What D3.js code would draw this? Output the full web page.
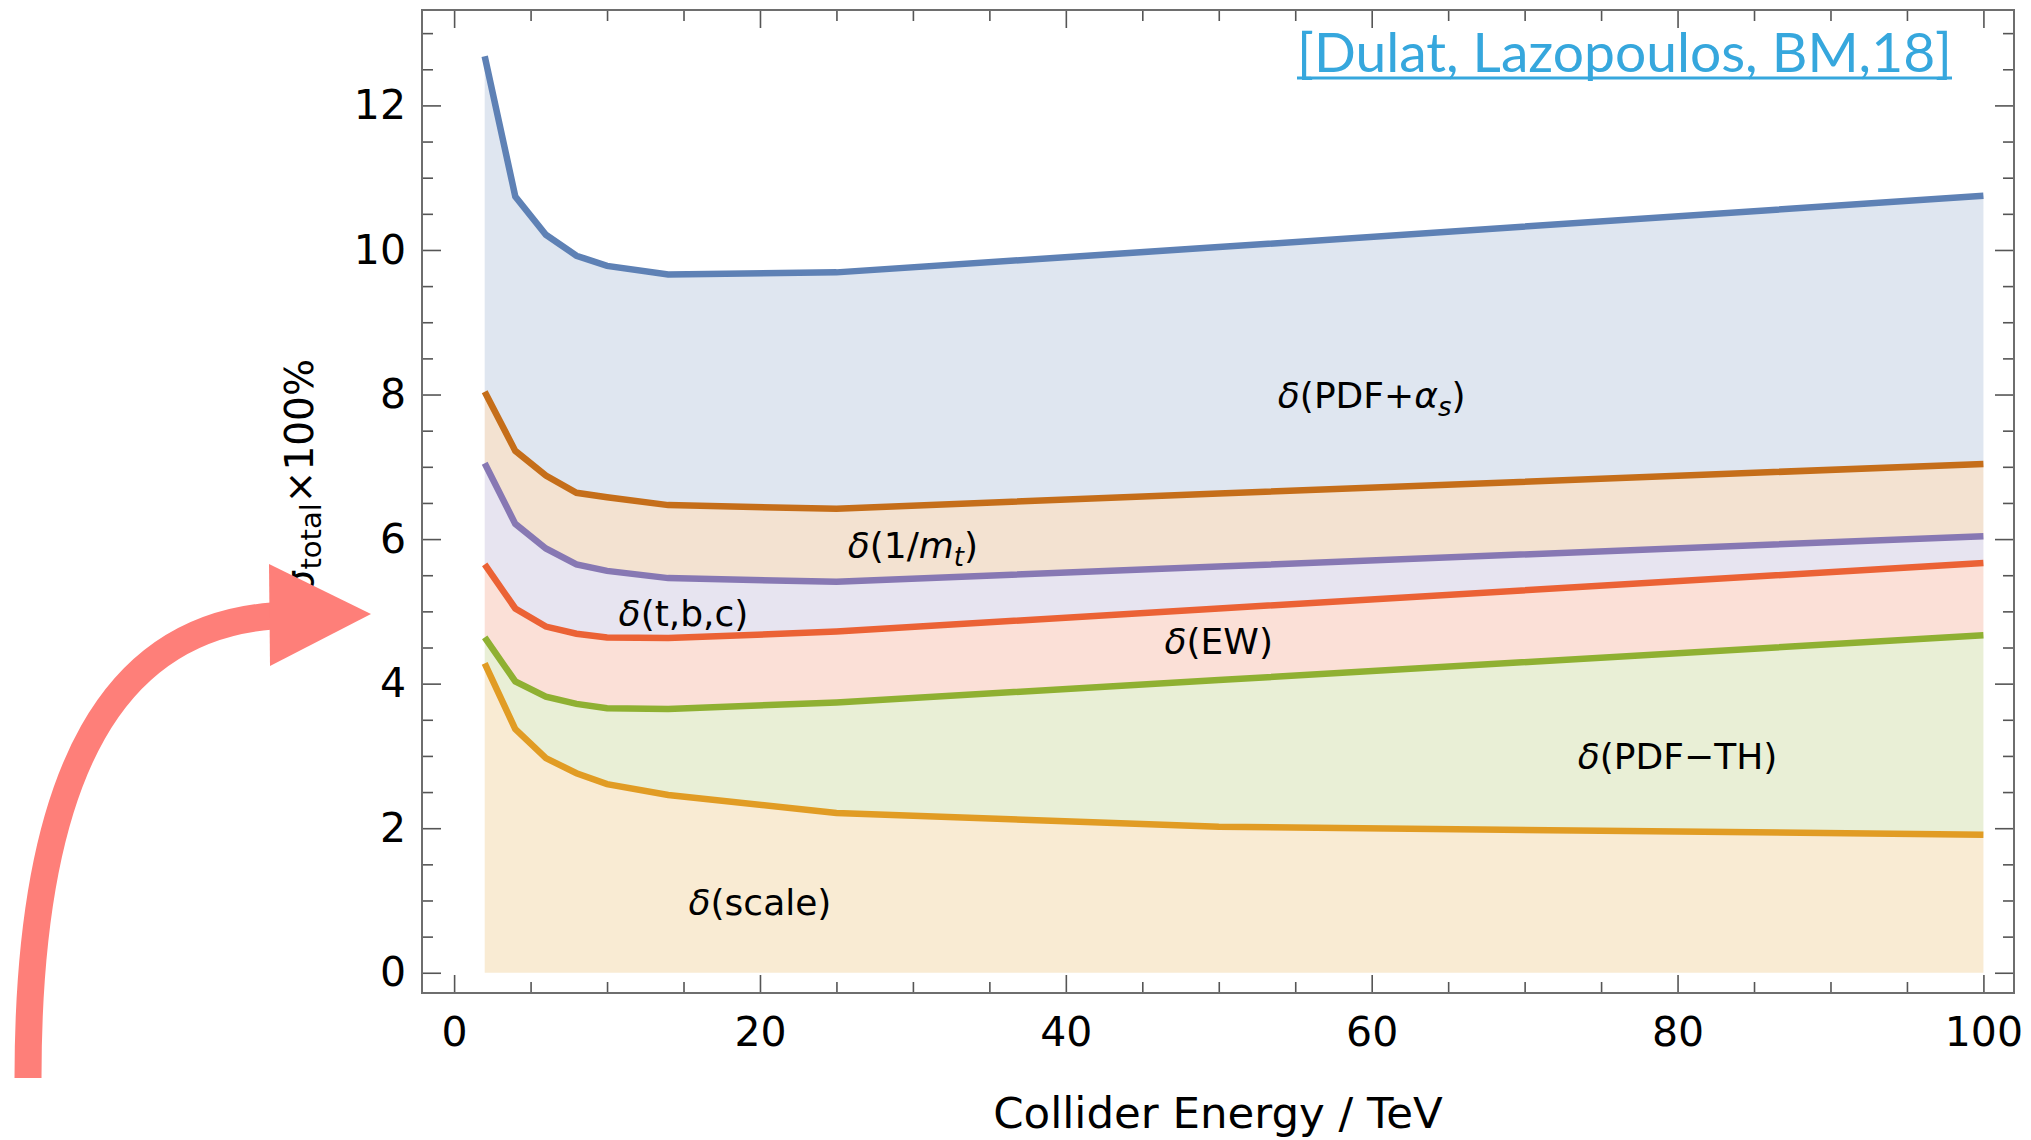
<!DOCTYPE html>
<html>
<head>
<meta charset="utf-8">
<script src="https://cdn.jsdelivr.net/npm/d3@7"></script>
<style>
  html, body { margin: 0; padding: 0; background: #fff; }
  svg { display: block; font-family: "DejaVu Sans", sans-serif; }
</style>
</head>
<body>
<svg id="chart" width="2031" height="1140"></svg>
<script>
// --- data (uncertainty in % vs collider energy in TeV) ---
const energies  = [2, 4, 6, 8, 10, 14, 25, 50, 100];
const pdfAlphaS = [12.68, 10.74, 10.21, 9.92, 9.78, 9.66, 9.69, 10.04, 10.75];
const invMt     = [8.04, 7.22, 6.88, 6.64, 6.58, 6.47, 6.42, 6.63, 7.04];
const tbc       = [7.05, 6.21, 5.87, 5.65, 5.56, 5.46, 5.41, 5.62, 6.04];
const ew        = [5.65, 5.04, 4.79, 4.69, 4.64, 4.63, 4.72, 5.04, 5.67];
const pdfTh     = [4.64, 4.03, 3.82, 3.72, 3.66, 3.65, 3.74, 4.05, 4.67];
const scaleUnc  = [4.28, 3.37, 2.97, 2.76, 2.61, 2.46, 2.21, 2.02, 1.91];
const zeroLine  = energies.map(() => 0);

const xTicks = [0, 20, 40, 60, 80, 100];
const yTicks = [0, 2, 4, 6, 8, 10, 12];

// band labels: [text parts, x (TeV), y (%, baseline)]
const bandLabels = [
  { parts: [["δ", "i"], ["(PDF+"], ["α", "i"], ["s", "sub"], [")"]], x: 60, y: 7.81 },
  { parts: [["δ", "i"], ["(1/"], ["m", "i"], ["t", "sub"], [")"]],   x: 30, y: 5.74 },
  { parts: [["δ", "i"], ["(t,b,c)"]],   x: 15, y: 4.80 },
  { parts: [["δ", "i"], ["(EW)"]],      x: 50, y: 4.41 },
  { parts: [["δ", "i"], ["(PDF\u2212TH)"]], x: 80, y: 2.82 },
  { parts: [["δ", "i"], ["(scale)"]],   x: 20, y: 0.80 }
];

// Mathematica default palette
const bands = [
  { upper: pdfAlphaS, lower: invMt,    color: "#5E81B5" },
  { upper: invMt,     lower: tbc,      color: "#C56E1A" },
  { upper: tbc,       lower: ew,       color: "#8778B3" },
  { upper: ew,        lower: pdfTh,    color: "#EB6235" },
  { upper: pdfTh,     lower: scaleUnc, color: "#8FB032" },
  { upper: scaleUnc,  lower: zeroLine, color: "#E19C24" }
];

const svg = d3.select("#chart");
const frame = { left: 422, right: 2014, top: 10, bottom: 993 };

const x = d3.scaleLinear().domain([-2.1, 102]).range([frame.left, frame.right]);
const y = d3.scaleLinear().domain([-0.28, 13.32]).range([frame.bottom, frame.top]);

// --- filled bands ---
const area = d3.area()
  .x(d => x(d.e))
  .y0(d => y(d.lo))
  .y1(d => y(d.hi));

bands.forEach(b => {
  const pts = energies.map((e, i) => ({ e, hi: b.upper[i], lo: b.lower[i] }));
  svg.append("path")
    .datum(pts)
    .attr("d", area)
    .attr("fill", b.color)
    .attr("fill-opacity", 0.2);
});

// --- lines ---
const line = d3.line().x(d => x(d.e)).y(d => y(d.v));
bands.slice().reverse().forEach(b => {
  svg.append("path")
    .datum(energies.map((e, i) => ({ e, v: b.upper[i] })))
    .attr("d", line)
    .attr("fill", "none")
    .attr("stroke", b.color)
    .attr("stroke-width", 6.5);
});

// --- frame & ticks ---
const xMinor = d3.range(0, 101, 5).filter(v => !xTicks.includes(v));
const yMinor = d3.range(0, 13.01, 0.5).filter(v => !yTicks.includes(v));

function styleAxis(g, showText) {
  g.select(".domain").remove();
  g.attr("font-family", "DejaVu Sans").attr("font-size", 41);
  g.selectAll(".tick line").attr("stroke", "#555").attr("stroke-width", 1.6);
  g.selectAll(".tick text").attr("fill", "#000");
  if (!showText) g.selectAll(".tick text").remove();
}

const axes = [
  { make: d3.axisBottom, scale: x, at: `translate(0,${frame.bottom})`, major: xTicks, minor: xMinor, len: 18, pad: 24, text: true },
  { make: d3.axisTop,    scale: x, at: `translate(0,${frame.top})`,    major: xTicks, minor: xMinor, len: 18, pad: 0,  text: false },
  { make: d3.axisLeft,   scale: y, at: `translate(${frame.left},0)`,   major: yTicks, minor: yMinor, len: 19, pad: 16, text: true },
  { make: d3.axisRight,  scale: y, at: `translate(${frame.right},0)`,  major: yTicks, minor: yMinor, len: 19, pad: 0,  text: false }
];

axes.forEach(a => {
  svg.append("g").attr("transform", a.at)
    .call(a.make(a.scale).tickValues(a.major).tickSizeInner(-a.len).tickSizeOuter(0)
      .tickPadding(a.pad).tickFormat(d3.format("d")))
    .call(g => styleAxis(g, a.text));
  svg.append("g").attr("transform", a.at)
    .call(a.make(a.scale).tickValues(a.minor).tickSizeInner(-11).tickSizeOuter(0).tickFormat(""))
    .call(g => styleAxis(g, false));
});

svg.append("rect")
  .attr("x", frame.left).attr("y", frame.top)
  .attr("width", frame.right - frame.left).attr("height", frame.bottom - frame.top)
  .attr("fill", "none").attr("stroke", "#6e6e6e").attr("stroke-width", 2);

// --- band labels ---
bandLabels.forEach(l => {
  const t = svg.append("text")
    .attr("x", x(l.x)).attr("y", y(l.y))
    .attr("text-anchor", "middle")
    .attr("font-size", 36).attr("fill", "#000");
  l.parts.forEach(([s, kind]) => {
    const sp = t.append("tspan").text(s);
    if (kind === "i") sp.attr("font-style", "italic");
    if (kind === "sub") sp.attr("font-style", "italic").attr("font-size", 26).attr("dy", 8);
  });
  // undo subscript shift for anything after it
  t.selectAll("tspan").each(function(d, i, nodes) {
    if (i > 0 && nodes[i - 1].getAttribute("dy") === "8") d3.select(this).attr("dy", -8);
  });
});

// --- axis titles ---
svg.append("text")
  .attr("x", (frame.left + frame.right) / 2).attr("y", 1128)
  .attr("text-anchor", "middle").attr("font-size", 43.5)
  .text("Collider Energy / TeV");

const yl = svg.append("text")
  .attr("transform", "translate(313,359) rotate(-90)")
  .attr("text-anchor", "end").attr("font-size", 39);
yl.append("tspan").text("σ");
yl.append("tspan").attr("font-size", 29).attr("dy", 8).text("total");
yl.append("tspan").attr("dy", -8).text("×100%");

// --- citation ---
svg.append("text")
  .attr("x", 1297).attr("y", 72)
  .attr("font-family", "Lato").attr("font-size", 54)
  .attr("fill", "#36a7dd")
  .attr("textLength", 655).attr("lengthAdjust", "spacingAndGlyphs")
  .text("[Dulat, Lazopoulos, BM,18]");
svg.append("line")
  .attr("x1", 1297).attr("x2", 1952).attr("y1", 78).attr("y2", 78)
  .attr("stroke", "#36a7dd").attr("stroke-width", 3);

// --- slide arrow pointing at the axis label ---
svg.append("path")
  .attr("d", "M28,1078 C28,760 120,628 272,616")
  .attr("fill", "none").attr("stroke", "#fe7f79").attr("stroke-width", 27);
svg.append("path")
  .attr("d", "M269,564 L371,614 L270,666 Z")
  .attr("fill", "#fe7f79");
</script>
</body>
</html>
